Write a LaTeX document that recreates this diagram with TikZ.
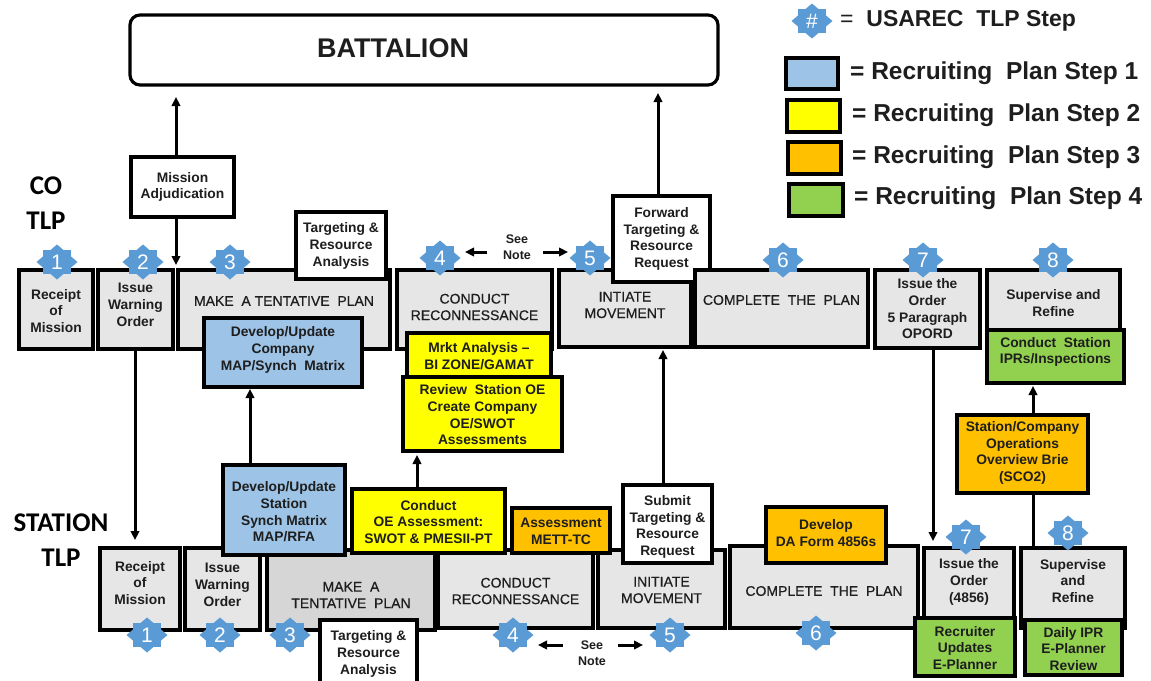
\documentclass[tikz,border=0pt]{standalone}
\usepackage{fontspec}
\setmainfont{Liberation Sans}
\newfontfamily\calib{Carlito}
\newfontfamily\semib[FakeBold=0.6]{Liberation Sans}
\usetikzlibrary{arrows.meta}
\definecolor{grayb}{HTML}{E7E6E6}
\definecolor{grayd}{HTML}{D6D6D6}
\definecolor{blueb}{HTML}{9DC3E6}
\definecolor{yelb}{HTML}{FFFF00}
\definecolor{orb}{HTML}{FFC000}
\definecolor{grb}{HTML}{92D050}
\definecolor{badgec}{HTML}{5B9BD5}
\definecolor{txt}{HTML}{1E1E1E}
\tikzset{
  boxbase/.style={draw=black, line width=4pt, inner sep=0pt},
  gbox/.style={boxbase, fill=grayb},
  dbox/.style={boxbase, fill=grayd},
  wbox/.style={boxbase, fill=white},
  bbox/.style={boxbase, fill=blueb},
  ybox/.style={boxbase, fill=yelb},
  obox/.style={boxbase, fill=orb},
  grbox/.style={boxbase, fill=grb},
  boxtext/.style={inner sep=0pt, align=center, text=txt, font=\bfseries\fontsize{13.8}{16.7}\selectfont},
  regtext/.style={inner sep=0pt, align=center, text=txt, font=\semib\fontsize{14}{16.5}\selectfont},
  badgetxt/.style={inner sep=0pt, text=white, font=\fontsize{21}{21}\selectfont},
  arr/.style={line width=3pt, -{Triangle[length=9pt,width=8.5pt]}},
  plain/.style={line width=3pt},
  legtext/.style={inner sep=0pt, anchor=west, text=txt, font=\bfseries\fontsize{24.5}{26}\selectfont},
  tlp/.style={inner sep=0pt, align=center, text=black, font=\calib\bfseries\fontsize{27}{35}\selectfont},
}
% #1 box style, #2 name, #3 x1, #4 y1, #5 x2, #6 y2, #7 text, #8 text y, #9 text style
\newcommand\bxcore[9]{%
  \pgfmathsetmacro\bw{#5-#3}\pgfmathsetmacro\bh{#6-#4}%
  \pgfmathsetmacro\bcx{(#3+#5)/2}\pgfmathsetmacro\bcy{(#4+#6)/2}%
  \node[#1, minimum width=\bw pt, minimum height=\bh pt] (#2) at (\bcx,\bcy) {};
  \node[#9] (#2-t) at (\bcx,#8) {#7};}
\newcommand\bx[8]{\bxcore{#1}{#2}{#3}{#4}{#5}{#6}{#7}{#8}{boxtext}}
\newcommand\bxr[8]{\bxcore{#1}{#2}{#3}{#4}{#5}{#6}{#7}{#8}{regtext}}
% #1 name, #2 x, #3 y, #4 text
\newcommand\badge[4]{%
  \begin{scope}[shift={(#2,#3)}]
    \fill[badgec] (-20.5,0) -- (0,-17.5) -- (20.5,0) -- (0,17.5) -- cycle;
    \fill[badgec] (-14.3,-12.3) rectangle (14.3,12.3);
  \end{scope}
  \node[badgetxt] (#1) at (#2,#3) {#4};}
\begin{document}
\begin{tikzpicture}[x=1pt,y=-1pt]
\useasboundingbox[fill=white] (0,0) rectangle (1151,680);

% ---------- Battalion ----------
\node[draw=black, line width=3.2pt, rounded corners=10pt, fill=white,
      minimum width=588pt, minimum height=70pt, inner sep=0pt] (bn) at (424,50) {};
\node[inner sep=0pt, font=\bfseries\fontsize{27}{27}\selectfont, text=txt] (bn-t) at (393,48) {BATTALION};
\coordinate (bnA) at (176,97);
\coordinate (bnB) at (658,93);

% ---------- Legend ----------
\badge{lgb}{812}{21}{\#}
\node[inner sep=0pt, anchor=west, text=txt, font=\fontsize{23}{23}\selectfont] (lg0) at (840,21)
  {= \ \textbf{USAREC\ \ TLP Step}};
\bx{bbox}{lg1}{786}{58}{838}{89}{}{73}
\bx{ybox}{lg2}{787}{100}{840}{132}{}{116}
\bx{obox}{lg3}{788}{142}{841}{174}{}{158}
\bx{grbox}{lg4}{789}{184}{843}{216}{}{200}
\node[legtext] (lg1x) at (850,73) {= Recruiting\ \ Plan Step 1};
\node[legtext] (lg2x) at (852,115) {= Recruiting\ \ Plan Step 2};
\node[legtext] (lg3x) at (852,157) {= Recruiting\ \ Plan Step 3};
\node[legtext] (lg4x) at (854,198) {= Recruiting\ \ Plan Step 4};

% ---------- Row titles ----------
\node[tlp] (cotlp) at (46,203) {CO\\TLP};
\node[tlp] (sttlp) at (61,540) {STATION\\TLP};

% ---------- CO TLP row ----------
\bx{wbox}{madj}{131}{157}{234}{217}{Mission\\Adjudication}{187}
\bx{gbox}{c1}{19}{270}{93}{349}{Receipt\\of\\Mission}{311}
\bx{gbox}{c2}{98}{270}{173}{349}{Issue\\Warning\\Order}{305}
\bxr{gbox}{c3}{178}{270}{390}{349}{MAKE\ \ A TENTATIVE\ \ PLAN}{301}
\bx{wbox}{c3t}{296}{212}{386}{279}{Targeting \&\\Resource\\Analysis}{246}
\bx{bbox}{c3b}{204}{318}{362}{387}{Develop/Update\\Company\\MAP/Synch\ \ Matrix}{350}
\bxr{gbox}{c4}{397}{270}{552}{349}{CONDUCT\\RECONNESSANCE}{307}
\bx{ybox}{c4a}{407}{333}{551}{378}{Mrkt Analysis --\\BI ZONE/GAMAT}{356}
\bx{ybox}{c4b}{403}{377}{562}{451}{Review\ \ Station OE\\Create Company\\OE/SWOT\\Assessments}{415}
\bxr{gbox}{c5}{559}{270}{691}{347}{INTIATE\\MOVEMENT}{305}
\bx{wbox}{c5t}{613}{196}{710}{282}{Forward\\Targeting \&\\Resource\\Request}{239}
\bxr{gbox}{c6}{695}{270}{868}{347}{COMPLETE\ \ THE\ \ PLAN}{300}
\bx{gbox}{c7}{875}{270}{980}{348}{Issue the\\Order\\5 Paragraph\\OPORD}{309}
\bx{gbox}{c8}{987}{270}{1120}{331}{Supervise and\\Refine}{303}
\bx{grbox}{c8g}{987}{330}{1124}{383}{Conduct\ \ Station\\IPRs/Inspections}{352}

\node[boxtext, font=\bfseries\fontsize{12.5}{16}\selectfont] (cnote) at (517,247) {See\\Note};
\coordinate (cnL0) at (487,252);
\coordinate (cnL1) at (465,252);
\coordinate (cnR0) at (543,252);
\coordinate (cnR1) at (568,252);

% ---------- STATION TLP row ----------
\bx{gbox}{s1}{100}{548}{180}{630}{Receipt\\of\\Mission}{583}
\bx{gbox}{s2}{185}{548}{260}{630}{Issue\\Warning\\Order}{585}
\bxr{dbox}{s3}{267}{550}{435}{630}{MAKE\ \ A\\TENTATIVE\ \ PLAN}{595}
\bxr{gbox}{s4}{438}{550}{593}{628}{CONDUCT\\RECONNESSANCE}{591}
\bxr{gbox}{s5}{598}{550}{725}{628}{INITIATE\\MOVEMENT}{590}
\bxr{gbox}{s6}{730}{546}{918}{628}{COMPLETE\ \ THE\ \ PLAN}{591}
\bx{gbox}{s7}{924}{548}{1014}{622}{Issue the\\Order\\(4856)}{582}
\bx{gbox}{s8}{1021}{548}{1125}{628}{Supervise\\and\\Refine}{581}

\bx{bbox}{s3b}{223}{465}{345}{555}{Develop/Update\\Station\\Synch Matrix\\MAP/RFA}{512}
\bx{wbox}{s3t}{320}{620}{417}{692}{Targeting \&\\Resource\\Analysis}{654}
\bx{ybox}{s4y}{352}{489}{505}{553}{Conduct\\OE Assessment:\\SWOT \& PMESII-PT}{522}
\bx{obox}{s4o}{512}{508}{610}{553}{Assessment\\METT-TC}{531}
\bx{wbox}{s5t}{623}{485}{712}{563}{Submit\\Targeting \&\\Resource\\Request}{527}
\bx{obox}{s6o}{766}{507}{886}{563}{Develop\\DA Form 4856s}{533}
\bx{grbox}{s7g}{915}{618}{1015}{676}{Recruiter\\Updates\\E-Planner}{648}
\bx{grbox}{s8g}{1025}{620}{1122}{675}{Daily IPR\\E-Planner\\Review}{649}
\bx{obox}{sco}{957}{415}{1088}{493}{Station/Company\\Operations\\Overview Brie\\(SCO2)}{453}

\node[boxtext, font=\bfseries\fontsize{12.5}{16}\selectfont] (snote) at (592,653) {See\\Note};
\coordinate (snL0) at (563,645);
\coordinate (snL1) at (538,645);
\coordinate (snR0) at (618,645);
\coordinate (snR1) at (643,645);

% ---------- connectors ----------
\coordinate (madjIn) at (176,265);
\coordinate (stIn1) at (135,540);
\coordinate (stIn7) at (933,541);
\coordinate (c3bIn) at (250,389);
\coordinate (c4bIn) at (417,455);
\coordinate (c5In) at (663,350);
\coordinate (c8gIn) at (1033,386);

\draw[arr] (madj.north -| bnA) -- (bnA);
\draw[arr] (madj.south -| madjIn) -- (madjIn);
\draw[arr] (c5t.north -| bnB) -- (bnB);
\draw[arr] (c2.south -| stIn1) -- (stIn1);
\draw[arr] (c7.south -| stIn7) -- (stIn7);
\draw[arr] (s3b.north -| c3bIn) -- (c3bIn);
\draw[arr] (s4y.north -| c4bIn) -- (c4bIn);
\draw[arr] (s5t.north -| c5In) -- (c5In);
\draw[plain] (s8.north -| c8gIn) -- (sco.south -| c8gIn);
\draw[arr] (sco.north -| c8gIn) -- (c8gIn);
\draw[arr] (cnL0) -- (cnL1);
\draw[arr] (cnR0) -- (cnR1);
\draw[arr] (snL0) -- (snL1);
\draw[arr] (snR0) -- (snR1);

% ---------- badges ----------
\badge{cb1}{57}{262}{1}
\badge{cb2}{143}{262}{2}
\badge{cb3}{230}{262}{3}
\badge{cb4}{440}{258}{4}
\badge{cb5}{590}{258}{5}
\badge{cb6}{783}{260}{6}
\badge{cb7}{923}{260}{7}
\badge{cb8}{1053}{260}{8}

\badge{sb1}{147}{635}{1}
\badge{sb2}{220}{635}{2}
\badge{sb3}{290}{635}{3}
\badge{sb4}{513}{635}{4}
\badge{sb5}{670}{635}{5}
\badge{sb6}{816}{633}{6}
\badge{sb7}{966}{537}{7}
\badge{sb8}{1068}{533}{8}
\end{tikzpicture}
\end{document}
